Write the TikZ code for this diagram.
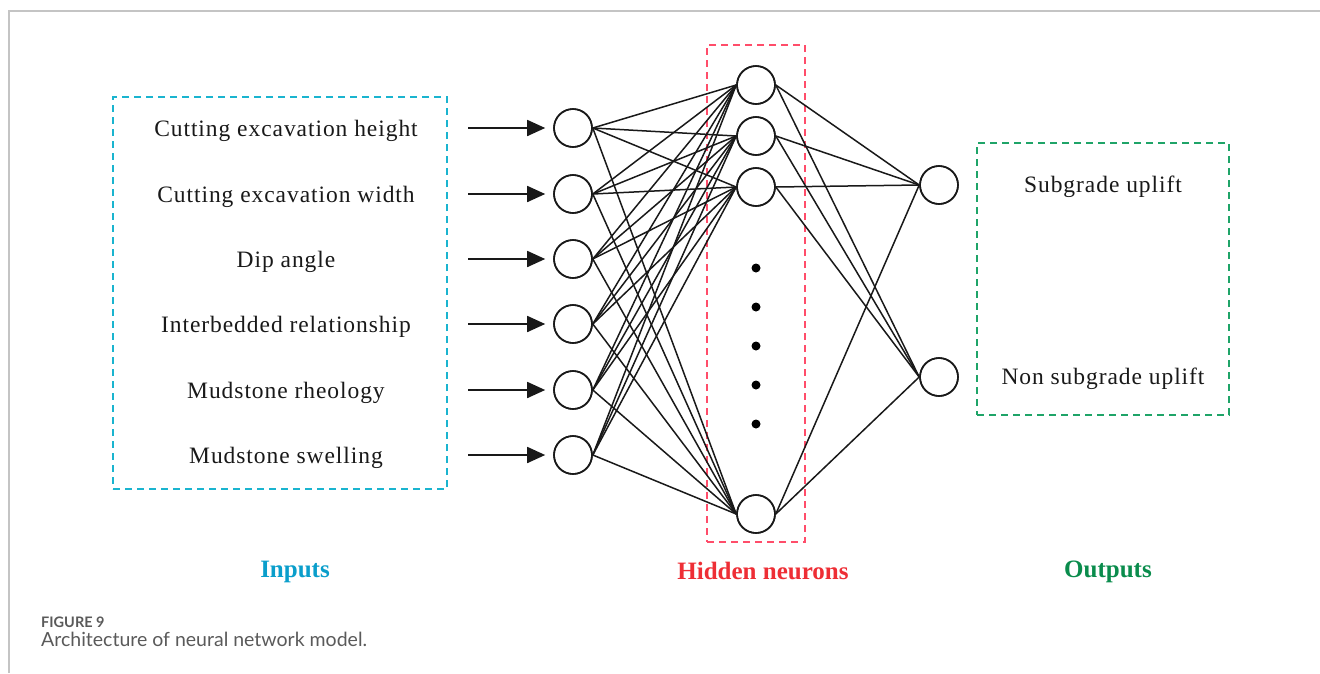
\documentclass[tikz,border=0pt]{standalone}
\usepackage{fontspec}
\setmainfont{Liberation Serif}
\newfontfamily\capfont{Lato}
\newfontfamily\labfont[LetterSpace=4]{Liberation Serif}
\usetikzlibrary{arrows.meta}

\definecolor{inbox}{HTML}{1AB4CF}
\definecolor{intext}{HTML}{0A9ECB}
\definecolor{hidbox}{HTML}{FF4D6A}
\definecolor{hidtext}{HTML}{EE2E35}
\definecolor{outbox}{HTML}{1FA468}
\definecolor{outtext}{HTML}{0A8C4C}
\definecolor{frame}{HTML}{C4C4C4}
\definecolor{captext}{HTML}{5A5A5A}

\tikzset{
  neuron/.style={circle, draw=black!90, line width=1.6pt, minimum size=38pt, inner sep=0pt, fill=white},
  link/.style={draw=black!90, line width=1.5pt},
  feed/.style={draw=black!90, line width=1.7pt, -{Triangle[length=18pt,width=16pt]}, shorten >=8pt},
  groupbox/.style={draw, dashed, dash pattern=on 7pt off 5pt, line width=1.8pt, inner sep=0pt},
  itemtext/.style={font=\labfont\fontsize{23.5}{28}\selectfont, text=black!90, anchor=base, inner sep=0pt},
  headtext/.style={font=\bfseries\fontsize{25}{30}\selectfont, anchor=base, inner sep=0pt},
  dot/.style={circle, fill=black, minimum size=9pt, inner sep=0pt}
}

\begin{document}
\begin{tikzpicture}[x=1pt, y=-1pt]
\useasboundingbox (0,0) rectangle (1320,673);

% page frame
\draw[frame, line width=1.3pt] (9,673) -- (9,11) -- (1320,11);

% group boxes
\node[groupbox, draw=inbox, minimum width=334pt, minimum height=392pt] (inbox) at (280,293) {};
\node[groupbox, draw=hidbox, minimum width=98pt, minimum height=497pt] (hidbox) at (756,293.5) {};
\node[groupbox, draw=outbox, minimum width=252pt, minimum height=272pt] (outbox) at (1103,279) {};

% input labels, input neurons and feed arrows
\foreach \k/\y/\txt in {1/128/Cutting excavation height, 2/194/Cutting excavation width,
                        3/259/Dip angle, 4/324/Interbedded relationship,
                        5/390/Mudstone rheology, 6/455/Mudstone swelling} {
  \node[itemtext] (t\k) at (286,\y+8) {\txt};
  \node[neuron] (i\k) at (573,\y) {};
  \coordinate (a\k) at (468,\y);
  \draw[feed] (a\k) -- (i\k.west);
}

% hidden neurons
\node[neuron] (h1) at (756,85) {};
\node[neuron] (h2) at (756,136) {};
\node[neuron] (h3) at (756,187) {};
\node[neuron] (h4) at (756,514) {};
\foreach \k/\y in {1/268, 2/307, 3/346, 4/385, 5/424}
  \node[dot] (d\k) at (756,\y) {};

% output neurons and labels
\node[neuron] (o1) at (939,185) {};
\node[neuron] (o2) at (939,377) {};
\node[itemtext] (s1) at (1103,192) {Subgrade uplift};
\node[itemtext] (s2) at (1103,384) {Non subgrade uplift};

% connections
\foreach \i in {1,...,6}
  \foreach \h in {1,...,4}
    \draw[link] (i\i.east) -- (h\h.west);
\foreach \h in {1,...,4}
  \foreach \o in {1,2}
    \draw[link] (h\h.east) -- (o\o.west);

% redraw neurons above the links
\foreach \n in {i1,i2,i3,i4,i5,i6,h1,h2,h3,h4,o1,o2}
  \draw[black!90, line width=1.6pt] (\n) circle (19pt);

% layer titles
\node[headtext, text=intext] (lin) at (295,577) {Inputs};
\node[headtext, text=hidtext] (lhid) at (763,579) {Hidden neurons};
\node[headtext, text=outtext] (lout) at (1108,577) {Outputs};

% caption
\node[font=\capfont\bfseries\fontsize{14.5}{16}\selectfont, text=captext, anchor=base west, inner sep=0pt] (fig) at (41,627) {FIGURE 9};
\node[font=\capfont\fontsize{19.5}{22}\selectfont, text=captext, anchor=base west, inner sep=0pt] (cap) at (41,646) {Architecture of neural network model.};
\end{tikzpicture}
\end{document}
